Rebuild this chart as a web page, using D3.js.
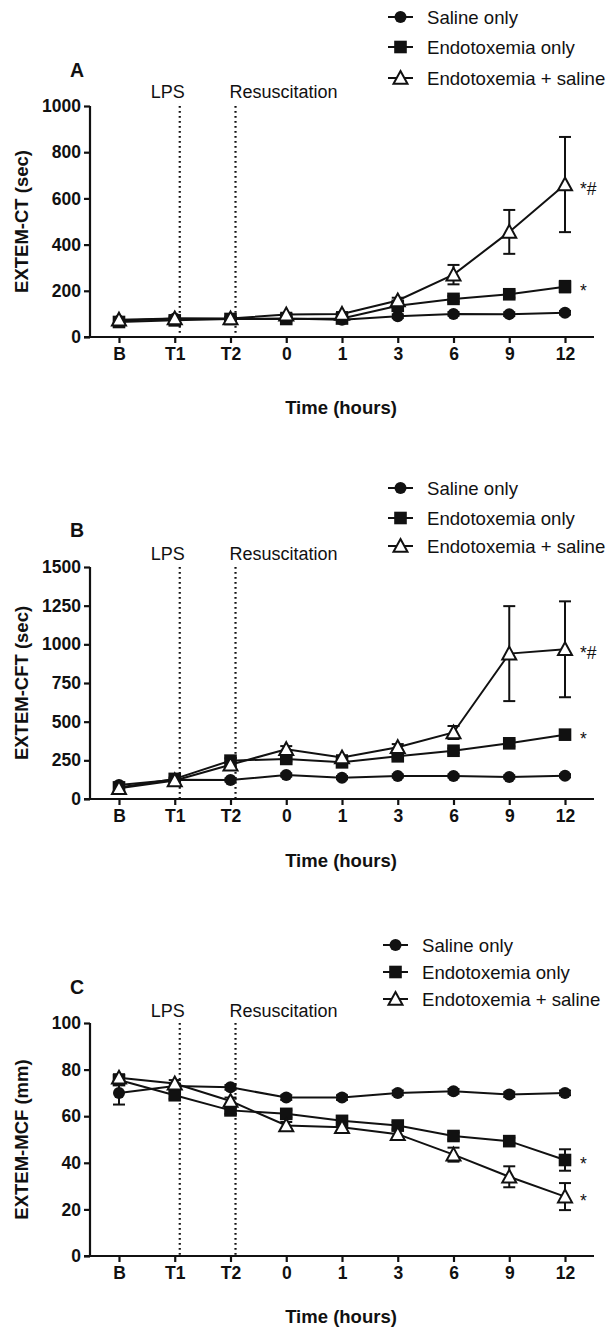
<!DOCTYPE html>
<html>
<head>
<meta charset="utf-8">
<script src="https://cdn.jsdelivr.net/npm/d3@7"></script>
<style>
  body { margin: 0; background: #fff; }
  svg { display: block; font-family: "Liberation Sans", Arial, sans-serif; }
</style>
</head>
<body>
<div id="plot"></div>
<script>
// Categories and series names
const categories = ["B", "T1", "T2", "0", "1", "3", "6", "9", "12"];
const seriesNames = ["Saline only", "Endotoxemia only", "Endotoxemia + saline"];

// Panel A: EXTEM-CT (sec)
const ctSaline = [70, 80, 78, 80, 75, 90, 100, 99, 105];
const ctSalineErr = [8, 8, 8, 8, 8, 8, 8, 8, 8];
const ctEndo = [65, 72, 78, 78, 80, 135, 165, 185, 218];
const ctEndoErr = [8, 8, 8, 8, 8, 10, 12, 15, 25];
const ctEndoSaline = [75, 80, 80, 97, 100, 158, 270, 455, 660];
const ctEndoSalineErr = [8, 8, 8, 8, 8, 12, 42, 95, 206];

// Panel B: EXTEM-CFT (sec)
const cftSaline = [90, 125, 123, 155, 138, 149, 149, 143, 150];
const cftSalineErr = [10, 10, 10, 10, 10, 10, 10, 10, 10];
const cftEndo = [75, 130, 248, 259, 237, 276, 312, 360, 416];
const cftEndoErr = [10, 10, 15, 15, 15, 15, 15, 20, 25];
const cftEndoSaline = [70, 120, 222, 322, 268, 335, 430, 940, 968];
const cftEndoSalineErr = [10, 10, 15, 20, 15, 20, 42, 307, 310];

// Panel C: EXTEM-MCF (mm)
const mcfSaline = [70, 73, 72.4, 68, 68, 70, 70.7, 69.3, 70];
const mcfSalineErr = [5, 1, 1, 1, 1, 1, 1, 1, 1];
const mcfEndo = [75.5, 69, 62.5, 61, 58, 56, 51.5, 49.3, 41.2];
const mcfEndoErr = [1.5, 1.5, 1.5, 1.5, 1.5, 1.5, 1.5, 1.5, 4.6];
const mcfEndoSaline = [76.5, 74, 66.5, 56, 55.3, 52.3, 43.5, 34, 25.5];
const mcfEndoSalineErr = [1.5, 1.5, 1.5, 1.5, 1.5, 1.5, 3, 4.5, 5.8];

// Y ticks and significance marks
const ctTicks = [0, 200, 400, 600, 800, 1000];
const cftTicks = [0, 250, 500, 750, 1000, 1250, 1500];
const mcfTicks = [0, 20, 40, 60, 80, 100];
const ctMarks = ["", "*", "*#"];
const cftMarks = ["", "*", "*#"];
const mcfMarks = ["", "*", "*"];

const width = 608, height = 1327;
const svg = d3.select("#plot").append("svg")
    .attr("width", width)
    .attr("height", height)
    .attr("viewBox", "0 0 " + width + " " + height);

const ink = "#111";
const x = d3.scalePoint().domain(categories).range([90, 594]).padding(0.52);

const panels = [
    { label: "A", title: "EXTEM-CT (sec)", ticks: ctTicks, top: 106, bottom: 337,
      values: [ctSaline, ctEndo, ctEndoSaline], errors: [ctSalineErr, ctEndoErr, ctEndoSalineErr],
      marks: ctMarks, labelY: 70, noteY: 98, titleY: 414, legendX: 388, legendY: [17, 47, 78] },
    { label: "B", title: "EXTEM-CFT (sec)", ticks: cftTicks, top: 567, bottom: 799,
      values: [cftSaline, cftEndo, cftEndoSaline], errors: [cftSalineErr, cftEndoErr, cftEndoSalineErr],
      marks: cftMarks, labelY: 530, noteY: 560, titleY: 867, legendX: 388, legendY: [488, 518, 546] },
    { label: "C", title: "EXTEM-MCF (mm)", ticks: mcfTicks, top: 1023, bottom: 1256,
      values: [mcfSaline, mcfEndo, mcfEndoSaline], errors: [mcfSalineErr, mcfEndoErr, mcfEndoSalineErr],
      marks: mcfMarks, labelY: 987, noteY: 1017, titleY: 1323, legendX: 383, legendY: [945, 972, 999] }
];

// Marker drawing for each series
function drawMarker(g, kind, cx, cy) {
    if (kind === 0) {
        g.append("circle").attr("cx", cx).attr("cy", cy).attr("r", 6)
            .attr("fill", ink);
    } else if (kind === 1) {
        g.append("rect").attr("x", cx - 6.3).attr("y", cy - 6.3)
            .attr("width", 12.6).attr("height", 12.6).attr("fill", ink);
    } else {
        g.append("path")
            .attr("d", "M" + cx + "," + (cy - 7) + "L" + (cx + 7) + "," + (cy + 5.8) +
                  "L" + (cx - 7) + "," + (cy + 5.8) + "Z")
            .attr("fill", "#fff").attr("stroke", ink).attr("stroke-width", 2)
            .attr("stroke-linejoin", "miter");
    }
}

panels.forEach(p => {
    const g = svg.append("g");
    const ymax = p.ticks[p.ticks.length - 1];
    const y = d3.scaleLinear().domain([0, ymax]).range([p.bottom, p.top]);

    // Y axis
    const yAxis = d3.axisLeft(y).tickValues(p.ticks).tickFormat(d3.format("d")).tickSize(6).tickPadding(3);
    const gy = g.append("g").attr("transform", "translate(90,0)").call(yAxis);
    gy.select(".domain").attr("stroke", ink).attr("stroke-width", 2.2).attr("d", "M0," + p.top + "V" + p.bottom);
    gy.selectAll(".tick line").attr("stroke", ink).attr("stroke-width", 2.2);
    gy.selectAll(".tick text").attr("fill", ink).attr("font-size", 17.5).attr("font-weight", "bold");

    // X axis
    const xAxis = d3.axisBottom(x).tickSize(6).tickPadding(5);
    const gx = g.append("g").attr("transform", "translate(0," + p.bottom + ")").call(xAxis);
    gx.select(".domain").attr("stroke", ink).attr("stroke-width", 2.2).attr("d", "M84,0H594");
    gx.selectAll(".tick line").attr("stroke", ink).attr("stroke-width", 2.2);
    gx.selectAll(".tick text").attr("fill", ink).attr("font-size", 17.5).attr("font-weight", "bold");

    // Titles
    g.append("text").attr("x", 341).attr("y", p.titleY).attr("text-anchor", "middle")
        .attr("font-size", 18.5).attr("font-weight", "bold").attr("fill", ink).text("Time (hours)");
    g.append("text").attr("transform", "translate(28," + ((p.top + p.bottom) / 2) + ") rotate(-90)")
        .attr("text-anchor", "middle").attr("font-size", 18.5).attr("font-weight", "bold")
        .attr("fill", ink).text(p.title);
    g.append("text").attr("x", 77).attr("y", p.labelY + 7).attr("text-anchor", "middle")
        .attr("font-size", 19.5).attr("font-weight", "bold").attr("fill", ink).text(p.label);

    // Event lines (LPS, Resuscitation)
    const shift = x.step() * 0.09;
    [["T1", "LPS"], ["T2", "Resuscitation"]].forEach(([cat, name], i) => {
        const lx = x(cat) + shift;
        g.append("line").attr("x1", lx).attr("x2", lx).attr("y1", p.top).attr("y2", p.bottom)
            .attr("stroke", ink).attr("stroke-width", 2.2).attr("stroke-dasharray", "1.8,3.2");
        g.append("text").attr("x", i === 0 ? lx - 12 : lx - 6).attr("y", p.noteY)
            .attr("text-anchor", i === 0 ? "middle" : "start")
            .attr("font-size", 18).attr("fill", ink).text(name);
    });

    // Lines
    const line = d3.line().x((d, i) => x(categories[i])).y(d => y(d));
    p.values.forEach(vals => {
        g.append("path").datum(vals).attr("d", line)
            .attr("fill", "none").attr("stroke", ink).attr("stroke-width", 2);
    });

    // Error bars
    p.values.forEach((vals, s) => {
        vals.forEach((v, i) => {
            const e = p.errors[s][i];
            const cx = x(categories[i]);
            const y1 = y(v + e), y2 = y(Math.max(0, v - e));
            g.append("line").attr("x1", cx).attr("x2", cx).attr("y1", y1).attr("y2", y2)
                .attr("stroke", ink).attr("stroke-width", 2);
            [y1, y2].forEach(yy => {
                g.append("line").attr("x1", cx - 6).attr("x2", cx + 6).attr("y1", yy).attr("y2", yy)
                    .attr("stroke", ink).attr("stroke-width", 2);
            });
        });
    });

    // Markers
    p.values.forEach((vals, s) => {
        vals.forEach((v, i) => drawMarker(g, s, x(categories[i]), y(v)));
    });

    // Significance marks at last time point
    p.values.forEach((vals, s) => {
        if (!p.marks[s]) return;
        g.append("text").attr("x", x(categories[categories.length - 1]) + 15)
            .attr("y", y(vals[vals.length - 1]) + 10)
            .attr("font-size", 17.5).attr("fill", ink).text(p.marks[s]);
    });

    // Legend
    seriesNames.forEach((name, s) => {
        const ly = p.legendY[s];
        g.append("line").attr("x1", p.legendX).attr("x2", p.legendX + 25).attr("y1", ly).attr("y2", ly)
            .attr("stroke", ink).attr("stroke-width", 2);
        drawMarker(g, s, p.legendX + 12.5, ly);
        g.append("text").attr("x", p.legendX + 39).attr("y", ly + 6.5)
            .attr("font-size", 18.6).attr("fill", ink).text(name);
    });
});
</script>
</body>
</html>
